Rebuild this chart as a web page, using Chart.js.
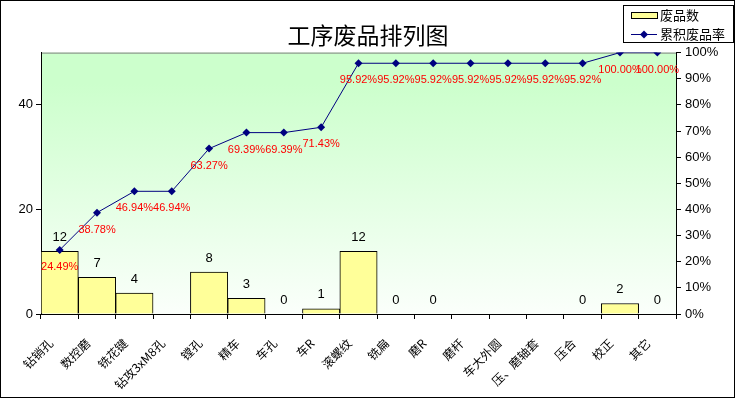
<!DOCTYPE html>
<html>
<head>
<meta charset="utf-8">
<script src="https://cdn.jsdelivr.net/npm/chart.js@4"></script>
<style>
html, body { margin: 0; padding: 0; background: #fff; }
#wrap { width: 736px; height: 401px; }
</style>
</head>
<body>
<div id="wrap"><canvas id="chart" width="736" height="401"></canvas></div>
<script>
var categories = ['钻销孔', '数控磨', '铣花键', '钻攻3xM8孔', '镗孔', '精车', '车孔', '车R', '滚螺纹',
    '铣扁', '磨R', '磨杆', '车大外圆', '压、磨轴套', '压合', '校正', '其它'];
var scrapCounts = [12, 7, 4, null, 8, 3, 0, 1, 12, 0, 0, null, null, null, 0, 2, 0];
var cumulativeRate = [24.49, 38.78, 46.94, 46.94, 63.27, 69.39, 69.39, 71.43, 95.92,
    95.92, 95.92, 95.92, 95.92, 95.92, 95.92, 100.00, 100.00];
var leftTicks = [0, 20, 40];

var cjk = '"Noto Sans CJK SC", sans-serif';
var latin = '"Liberation Sans", Arial, sans-serif';

// plot background: green fading to white
var plotBackground = {
    id: 'plotBackground',
    beforeDraw: function(chart) {
        var ctx = chart.ctx, a = chart.chartArea;
        ctx.save();
        ctx.fillStyle = '#fff';
        ctx.fillRect(0, 0, chart.width, chart.height);
        var g = ctx.createLinearGradient(0, a.top, 0, a.bottom);
        g.addColorStop(0, '#ccffcc');
        g.addColorStop(0.12, '#ccffcc');
        g.addColorStop(1, '#fbfffb');
        ctx.fillStyle = g;
        ctx.fillRect(a.left, a.top, a.right - a.left, a.bottom - a.top);
        ctx.strokeStyle = '#808080';
        ctx.lineWidth = 1;
        ctx.beginPath();
        ctx.moveTo(a.left, a.top + 0.5);
        ctx.lineTo(a.right, a.top + 0.5);
        ctx.stroke();
        ctx.restore();
    }
};

// value labels, legend box and outer frame
var decorations = {
    id: 'decorations',
    afterDatasetsDraw: function(chart) {
        var ctx = chart.ctx;
        ctx.save();
        ctx.textAlign = 'center';
        ctx.textBaseline = 'middle';

        var bars = chart.getDatasetMeta(0).data;
        ctx.fillStyle = '#000';
        ctx.font = '13px ' + latin;
        bars.forEach(function(el, i) {
            var v = scrapCounts[i];
            if (v === null) return;
            ctx.fillText(String(v), el.x, el.y - 14);
        });

        var pts = chart.getDatasetMeta(1).data;
        ctx.fillStyle = '#ff0000';
        ctx.font = '11px ' + latin;
        pts.forEach(function(el, i) {
            ctx.fillText(cumulativeRate[i].toFixed(2) + '%', el.x, el.y + 17);
        });
        ctx.restore();
    },
    afterDraw: function(chart) {
        var ctx = chart.ctx;
        ctx.save();
        // legend
        ctx.fillStyle = '#fff';
        ctx.fillRect(623.5, 5.5, 110, 37);
        ctx.strokeStyle = '#000';
        ctx.lineWidth = 1;
        ctx.strokeRect(623.5, 5.5, 110, 37);

        ctx.fillStyle = '#ffff99';
        ctx.fillRect(631.5, 12.5, 26, 6);
        ctx.strokeRect(631.5, 12.5, 26, 6);

        ctx.strokeStyle = '#000080';
        ctx.beginPath();
        ctx.moveTo(631, 34.5);
        ctx.lineTo(657, 34.5);
        ctx.stroke();
        ctx.fillStyle = '#000080';
        ctx.beginPath();
        ctx.moveTo(644, 30.5);
        ctx.lineTo(648, 34.5);
        ctx.lineTo(644, 38.5);
        ctx.lineTo(640, 34.5);
        ctx.closePath();
        ctx.fill();

        ctx.fillStyle = '#000';
        ctx.font = '13px ' + cjk;
        ctx.textAlign = 'left';
        ctx.textBaseline = 'middle';
        ctx.fillText('废品数', 660, 15.5);
        ctx.fillText('累积废品率', 660, 34.5);

        // outer frame
        ctx.strokeStyle = '#000';
        ctx.strokeRect(0.5, 0.5, 734, 397);
        ctx.restore();
    }
};

new Chart(document.getElementById('chart'), {
    type: 'bar',
    data: {
        labels: categories,
        datasets: [{
            type: 'bar',
            label: '废品数',
            data: scrapCounts,
            backgroundColor: '#ffff99',
            borderColor: '#000',
            borderWidth: 1,
            barPercentage: 1,
            categoryPercentage: 1,
            yAxisID: 'y',
            order: 1
        }, {
            type: 'line',
            label: '累积废品率',
            data: cumulativeRate,
            borderColor: '#000080',
            borderWidth: 1,
            backgroundColor: '#000080',
            pointStyle: 'rectRot',
            pointRadius: 4,
            pointBorderWidth: 0,
            tension: 0,
            fill: false,
            yAxisID: 'y1',
            order: 0
        }]
    },
    options: {
        responsive: false,
        animation: false,
        devicePixelRatio: 1,
        layout: { padding: 0 },
        plugins: {
            legend: { display: false },
            tooltip: { enabled: false },
            title: {
                display: true,
                text: '工序废品排列图',
                color: '#000',
                font: { family: cjk, size: 23, weight: 'normal' },
                padding: { top: 21, bottom: 4 }
            }
        },
        scales: {
            x: {
                offset: true,
                grid: { offset: true, drawOnChartArea: false, color: '#000', tickLength: 5 },
                border: { color: '#000' },
                ticks: {
                    color: '#000',
                    font: { family: cjk, size: 12 },
                    minRotation: 45,
                    maxRotation: 45,
                    autoSkip: false,
                    padding: 17,
                    labelOffset: -9
                },
                afterFit: function(s) { s.height = 87; }
            },
            y: {
                position: 'left',
                min: 0,
                max: 50,
                afterBuildTicks: function(s) {
                    s.ticks = leftTicks.map(function(v) { return { value: v }; });
                },
                grid: { drawOnChartArea: false, color: '#000', tickLength: 5 },
                border: { color: '#000' },
                ticks: { color: '#000', font: { family: latin, size: 13 }, padding: 3 },
                afterFit: function(s) { s.width = 41; }
            },
            y1: {
                position: 'right',
                min: 0,
                max: 100,
                grid: { drawOnChartArea: false, color: '#000', tickLength: 5 },
                border: { color: '#000' },
                ticks: {
                    stepSize: 10,
                    color: '#000',
                    font: { family: latin, size: 13 },
                    padding: 4,
                    callback: function(v) { return v + '%'; }
                },
                afterFit: function(s) { s.width = 60; }
            }
        }
    },
    plugins: [plotBackground, decorations]
});
</script>
</body>
</html>
